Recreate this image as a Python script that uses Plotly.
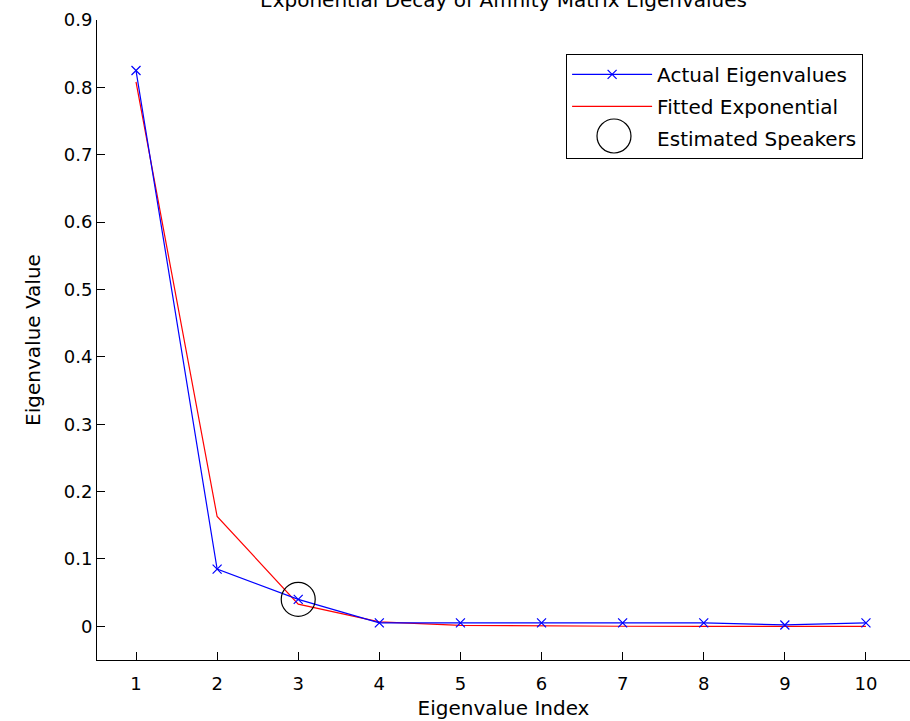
import plotly.graph_objects as go

idx = [1, 2, 3, 4, 5, 6, 7, 8, 9, 10]
actual = [0.825, 0.085, 0.040, 0.005, 0.005, 0.005, 0.005, 0.005, 0.002, 0.005]
fitted = [0.808, 0.163, 0.033, 0.0067, 0.0014, 0.0003, 0.0001, 0.0, 0.0, 0.0]
speaker_x = [3]
speaker_y = [0.040]
y_ticks = [0, 0.1, 0.2, 0.3, 0.4, 0.5, 0.6, 0.7, 0.8, 0.9]
y_labels = ["0", "0.1", "0.2", "0.3", "0.4", "0.5", "0.6", "0.7", "0.8", "0.9"]

FONT = "DejaVu Sans, Arial, sans-serif"

fig = go.Figure()
fig.add_trace(go.Scatter(
    x=idx, y=fitted, mode="lines", name="Fitted Exponential",
    legendgroup="b", legendrank=2,
    line=dict(color="#ff0000", width=1.2),
))
fig.add_trace(go.Scatter(
    x=idx, y=actual, mode="lines+markers", name="Actual Eigenvalues",
    legendgroup="a", legendrank=1,
    line=dict(color="#0000ff", width=1.2),
    marker=dict(symbol="x-thin", size=9, line=dict(color="#0000ff", width=1.2)),
))
fig.add_trace(go.Scatter(
    x=speaker_x, y=speaker_y, mode="markers", name="Estimated Speakers",
    showlegend=False,
    marker=dict(symbol="circle-open", size=34, color="#000000", line=dict(color="#000000", width=1.2)),
))
# legend entry for the speakers marker (symbol drawn as a larger circle shape below)
fig.add_trace(go.Scatter(
    x=[None], y=[None], mode="markers", name="Estimated Speakers",
    legendgroup="c", legendrank=3,
    marker=dict(symbol="circle-open", size=10, color="rgba(0,0,0,0)",
                line=dict(color="rgba(0,0,0,0)", width=0)),
))

fig.add_shape(type="circle", xref="paper", yref="paper", layer="above",
              x0=0.6150, x1=0.6568, y0=0.7922, y1=0.8453,
              line=dict(color="#000000", width=1.2))

fig.update_layout(
    width=910, height=721,
    margin=dict(l=97, r=0, t=20, b=61),
    paper_bgcolor="white", plot_bgcolor="white",
    font=dict(family=FONT, size=18, color="#000000"),
    title=dict(text="Exponential Decay of Affinity Matrix Eigenvalues",
               x=0.5, xanchor="center", xref="paper",
               y=1.0, yanchor="middle", yref="container",
               font=dict(size=20, family=FONT, color="#000000")),
    showlegend=True,
    legend=dict(x=0.577, y=0.947, xanchor="left", yanchor="top",
                bordercolor="#000000", borderwidth=1, bgcolor="rgba(255,255,255,0)",
                font=dict(size=20, family=FONT), itemwidth=80,
                traceorder="grouped", tracegroupgap=3),
    xaxis=dict(range=[0.519, 10.543], tickmode="array", tickvals=idx,
               ticktext=[str(i) for i in idx],
               showline=True, linecolor="#000000", linewidth=1,
               ticks="inside", ticklen=8, tickcolor="#000000",
               showgrid=False, zeroline=False,
               tickfont=dict(size=18), ticklabelstandoff=7,
               title=dict(text="Eigenvalue Index", standoff=8, font=dict(size=20))),
    yaxis=dict(range=[-0.05, 0.9], tickmode="array",
               tickvals=y_ticks, ticktext=y_labels,
               showline=True, linecolor="#000000", linewidth=1,
               ticks="inside", ticklen=8, tickcolor="#000000",
               showgrid=False, zeroline=False,
               tickfont=dict(size=18),
               title=dict(text="Eigenvalue Value", standoff=17, font=dict(size=20))),
)

fig.write_html("out.html")
